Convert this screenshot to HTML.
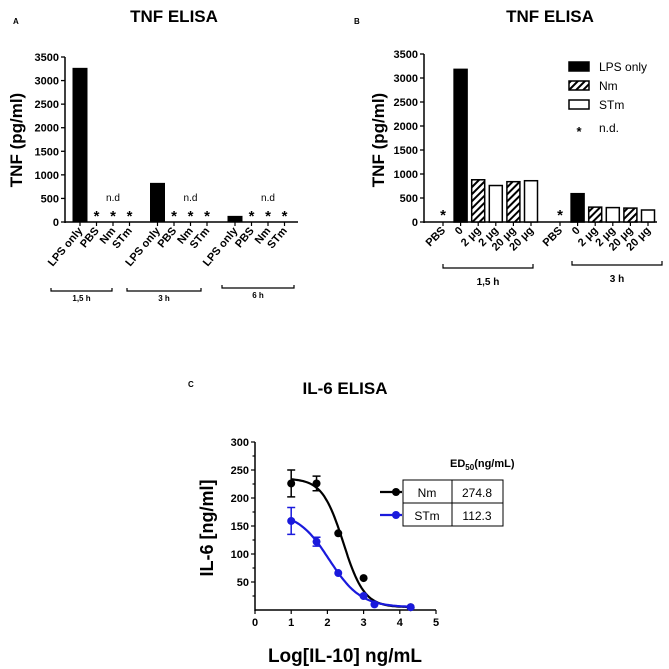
<!DOCTYPE html>
<html><head><meta charset="utf-8"><style>
body{margin:0;background:#fff}
svg{display:block;font-family:"Liberation Sans",Arial,sans-serif}
</style></head><body>
<svg id="fig" width="669" height="669" viewBox="0 0 669 669">
<defs><pattern id="hatch" patternUnits="userSpaceOnUse" width="5" height="5" patternTransform="rotate(45)"><rect width="5" height="5" fill="#fff"/><rect width="2" height="5" fill="#000"/></pattern></defs>
</svg>
<script>
// Panel A data
const aGroups=["1,5 h","3 h","6 h"];
const aCats=["LPS only","PBS","Nm","STm"];
const aValues=[[3270,null,null,null],[830,null,null,null],[130,null,null,null]];
const aTicks=[0,500,1000,1500,2000,2500,3000,3500];
// Panel B data
const bGroups=["1,5 h","3 h"];
const bCats=["PBS","0","2 μg","2 μg","20 μg","20 μg"];
const bTypes=["nd","lps","nm","stm","nm","stm"];
const bValues=[[null,3180,880,760,840,860],[null,590,310,300,290,250]];
const bTicks=[0,500,1000,1500,2000,2500,3000,3500];
// Panel C data
const cXTicks=[0,1,2,3,4,5];
const cYTicks=[50,100,150,200,250,300];
const nmX=[1,1.7,2.3,3,4.3];
const nmY=[226,226,137,57,5];
const nmErr=[24,13,0,0,0];
const stmX=[1,1.7,2.3,3,3.3,4.3];
const stmY=[159,122,66,25,10,5];
const stmErr=[24,8,0,0,0,0];
const nmFit=[235,5,2.44,1.5]; // top,bottom,logEC50,hill
const stmFit=[175,5,2.05,1.0];
const ed50=[["Nm","274.8"],["STm","112.3"]];

const svg=document.getElementById('fig');
const NS='http://www.w3.org/2000/svg';
function mk(tag,attrs,parent,text){const e=document.createElementNS(NS,tag);for(const k in attrs)e.setAttribute(k,attrs[k]);if(text!==undefined)e.textContent=text;(parent||svg).appendChild(e);return e;}
function grp(name){const g=mk('g',{});return g;}

// ---------- Panel A ----------
(function(){
const g=grp('panel-a');
const x0=65,x1=298,yTop=57,yBot=222,max=3500;
const ys=v=>yBot-(v/max)*(yBot-yTop);
const cx=(gi,ci)=>80+gi*77.5+ci*16.5;
let t=mk('text',{x:13,y:24,'font-size':8,'font-weight':'bold'},g,'A');
t=mk('text',{x:174,y:22,'font-size':17,'font-weight':'bold','text-anchor':'middle'},g,'TNF ELISA');
t=mk('text',{x:0,y:0,'font-size':17,'font-weight':'bold','text-anchor':'middle',transform:'translate(22,140) rotate(-90)'},g,'TNF (pg/ml)');
mk('line',{x1:x0,y1:yTop,x2:x0,y2:yBot+1,stroke:'#000','stroke-width':1.5},g);
mk('line',{x1:x0,y1:yBot,x2:x1,y2:yBot,stroke:'#000','stroke-width':1.5},g);
aTicks.forEach(v=>{mk('line',{x1:x0-4,y1:ys(v),x2:x0,y2:ys(v),stroke:'#000','stroke-width':1.3},g);
 const l=mk('text',{x:x0-6,y:ys(v)+4,'font-size':11,'font-weight':'bold','text-anchor':'end'},g,String(v));});
aGroups.forEach((gn,gi)=>{
 aCats.forEach((c,ci)=>{
  const x=cx(gi,ci);
  mk('line',{x1:x,y1:yBot,x2:x,y2:yBot+4,stroke:'#000','stroke-width':1.2},g);
  const l=mk('text',{x:0,y:0,'font-size':11,'font-weight':'bold','text-anchor':'end',transform:`translate(${x+3},${yBot+9}) rotate(-50)`},g,c);
  
  const v=aValues[gi][ci];
  if(v!==null){const b=mk('rect',{x:x-7.5,y:ys(v),width:15,height:yBot-ys(v),fill:'#000'},g);}
  else{const s=mk('text',{x:x,y:yBot-1,'font-size':15,'font-weight':'bold','text-anchor':'middle'},g,'*');}
 });
 const nd=mk('text',{x:cx(gi,2),y:yBot-21,'font-size':10,'text-anchor':'middle'},g,'n.d');
 const bx0=[51,127,222][gi],bx1=[112,201,294][gi],by=[291,291,288][gi];
 mk('path',{d:`M${bx0},${by-3}V${by}H${bx1}V${by-3}`,fill:'none',stroke:'#000','stroke-width':1.2},g);
 const bl=mk('text',{x:(bx0+bx1)/2,y:by+10,'font-size':8,'font-weight':'bold','text-anchor':'middle'},g,gn);
});
})();

// ---------- Panel B ----------
(function(){
const g=grp('panel-b');
const x0=424,x1=657,yTop=54,yBot=222,max=3500;
const ys=v=>yBot-(v/max)*(yBot-yTop);
const cx=(gi,ci)=>443+gi*117+ci*17.6;
let t=mk('text',{x:354,y:24,'font-size':8,'font-weight':'bold'},g,'B');
t=mk('text',{x:550,y:22,'font-size':17,'font-weight':'bold','text-anchor':'middle'},g,'TNF ELISA');
t=mk('text',{x:0,y:0,'font-size':17,'font-weight':'bold','text-anchor':'middle',transform:'translate(384,140) rotate(-90)'},g,'TNF (pg/ml)');
mk('line',{x1:x0,y1:yTop,x2:x0,y2:yBot+1,stroke:'#000','stroke-width':1.5},g);
mk('line',{x1:x0,y1:yBot,x2:x1,y2:yBot,stroke:'#000','stroke-width':1.5},g);
bTicks.forEach(v=>{mk('line',{x1:x0-4,y1:ys(v),x2:x0,y2:ys(v),stroke:'#000','stroke-width':1.3},g);
 const l=mk('text',{x:x0-6,y:ys(v)+4,'font-size':11,'font-weight':'bold','text-anchor':'end'},g,String(v));});
bGroups.forEach((gn,gi)=>{
 bCats.forEach((c,ci)=>{
  const x=cx(gi,ci);
  mk('line',{x1:x,y1:yBot,x2:x,y2:yBot+4,stroke:'#000','stroke-width':1.2},g);
  const l=mk('text',{x:0,y:0,'font-size':11,'font-weight':'bold','text-anchor':'end',transform:`translate(${x+3},${yBot+9}) rotate(-45)`},g,c);
  
  const v=bValues[gi][ci],ty=bTypes[ci];
  if(v===null){const s=mk('text',{x:x,y:yBot-2,'font-size':15,'font-weight':'bold','text-anchor':'middle'},g,'*');}
  else{
   const fill=ty==='lps'?'#000':ty==='nm'?'url(#hatch)':'#fff';
   const b=mk('rect',{x:x-6.5,y:ys(v),width:13,height:yBot-ys(v),fill:fill,stroke:'#000','stroke-width':1.5},g);
   
  }
 });
 const bx0=[443,572][gi],bx1=[533,662][gi],by=[268,265][gi];
 mk('path',{d:`M${bx0},${by-4}V${by}H${bx1}V${by-4}`,fill:'none',stroke:'#000','stroke-width':1.2},g);
 const bl=mk('text',{x:(bx0+bx1)/2,y:by+17,'font-size':10,'font-weight':'bold','text-anchor':'middle'},g,gn);
});
const lg=grp('panel-b-legend');
const items=[['LPS only','#000',67],['Nm','url(#hatch)',86],['STm','#fff',105]];
items.forEach(it=>{
 mk('rect',{x:569,y:it[2]-5,width:20,height:9,fill:it[1],stroke:'#000','stroke-width':1.5},lg);
 const l=mk('text',{x:599,y:it[2]+4,'font-size':12},lg,it[0]);
});
const s=mk('text',{x:579,y:136,'font-size':13,'font-weight':'bold','text-anchor':'middle'},lg,'*');
const n=mk('text',{x:599,y:132,'font-size':12},lg,'n.d.');
})();

// ---------- Panel C ----------
(function(){
const g=grp('panel-c');
const x0=255,xs=x=>255+x*36.2,ys=v=>610-v*0.56;
let t=mk('text',{x:188,y:387,'font-size':8,'font-weight':'bold'},g,'C');
t=mk('text',{x:345,y:394,'font-size':17,'font-weight':'bold','text-anchor':'middle'},g,'IL-6 ELISA');
t=mk('text',{x:0,y:0,'font-size':18,'font-weight':'bold','text-anchor':'middle',transform:'translate(213,528) rotate(-90)'},g,'IL-6 [ng/ml]');
t=mk('text',{x:345,y:662,'font-size':19,'font-weight':'bold','text-anchor':'middle'},g,'Log[IL-10] ng/mL');
mk('line',{x1:x0,y1:ys(300),x2:x0,y2:ys(0)+1,stroke:'#000','stroke-width':1.5},g);
mk('line',{x1:x0,y1:ys(0),x2:xs(5),y2:ys(0),stroke:'#000','stroke-width':1.5},g);
for(let v=25;v<=300;v+=25){mk('line',{x1:x0-(v%50?2.5:4),y1:ys(v),x2:x0,y2:ys(v),stroke:'#000','stroke-width':1.2},g);}
cYTicks.forEach(v=>{const l=mk('text',{x:x0-6,y:ys(v)+4,'font-size':11,'font-weight':'bold','text-anchor':'end'},g,String(v));});
cXTicks.forEach(v=>{mk('line',{x1:xs(v),y1:ys(0),x2:xs(v),y2:ys(0)+4,stroke:'#000','stroke-width':1.2},g);
 const l=mk('text',{x:xs(v),y:ys(0)+16,'font-size':11,'font-weight':'bold','text-anchor':'middle'},g,String(v));});
function series(X,Y,E,fit,col,name){
 const sg=grp('series-'+name);
 let d='';for(let i=0;i<=80;i++){const x=1+i*(3.3/80);const y=fit[1]+(fit[0]-fit[1])/(1+Math.pow(10,fit[3]*(x-fit[2])));d+=(i?'L':'M')+xs(x).toFixed(1)+','+ys(y).toFixed(1);}
 const p=mk('path',{d:d,fill:'none',stroke:col,'stroke-width':2.2},sg);
 X.forEach((x,i)=>{
  if(E[i]){const px=xs(x),a=ys(Y[i]+E[i]),b=ys(Y[i]-E[i]);mk('path',{d:`M${px},${a}V${b}M${px-4},${a}H${px+4}M${px-4},${b}H${px+4}`,stroke:col,'stroke-width':1.5,fill:'none'},sg);}
  const c=mk('circle',{cx:xs(x),cy:ys(Y[i]),r:4,fill:col},sg);
 });
}
series(nmX,nmY,nmErr,nmFit,'#000','nm');
series(stmX,stmY,stmErr,stmFit,'#1a1adc','stm');
const lg=grp('panel-c-legend');
const h=mk('text',{x:450,y:467,'font-size':11,'font-weight':'bold'},lg);
mk('tspan',{},h,'ED');mk('tspan',{'font-size':8,dy:3},h,'50');mk('tspan',{dy:-3},h,'(ng/mL)');

mk('rect',{x:403,y:480,width:100,height:46,fill:'none',stroke:'#000','stroke-width':1},lg);
mk('line',{x1:403,y1:503,x2:503,y2:503,stroke:'#000','stroke-width':1},lg);
mk('line',{x1:452,y1:480,x2:452,y2:526,stroke:'#000','stroke-width':1},lg);
ed50.forEach((r,i)=>{const y=492+i*23,col=i?'#1a1adc':'#000';
 mk('line',{x1:380,y1:y,x2:402,y2:y,stroke:col,'stroke-width':2.2},lg);
 mk('circle',{cx:396,cy:y,r:4,fill:col},lg);
 const a=mk('text',{x:427,y:y+5,'font-size':12,'text-anchor':'middle'},lg,r[0]);
 const b=mk('text',{x:477,y:y+5,'font-size':12,'text-anchor':'middle'},lg,r[1]);
});
})();
</script>
</body></html>
